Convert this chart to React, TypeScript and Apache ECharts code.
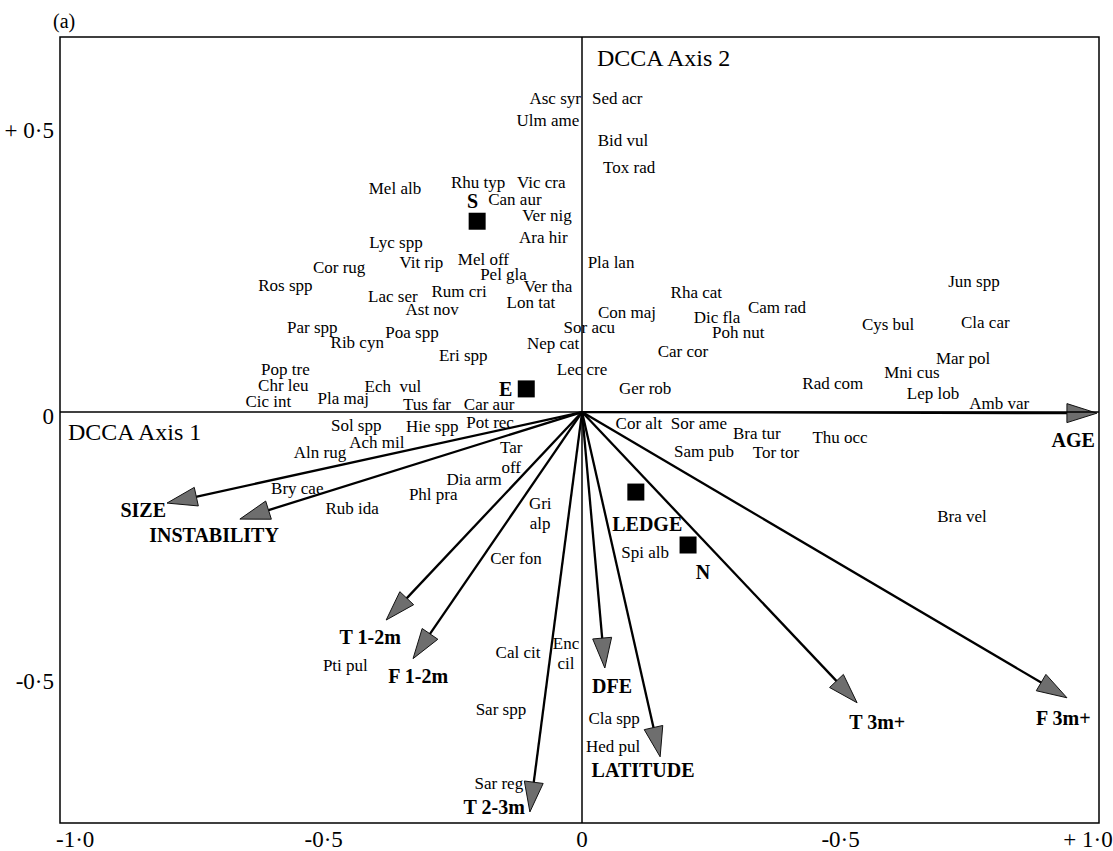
import React, { useEffect, useRef } from "react";
import * as echarts from "echarts";

// Species scores on DCCA axes 1 and 2
const speciesNames = [
  "Asc syr", "Sed acr", "Ulm ame", "Bid vul", "Tox rad", "Mel alb", "Rhu typ", "Vic cra",
  "Can aur", "Ver nig", "Ara hir", "Lyc spp", "Vit rip", "Mel off", "Cor rug", "Pel gla",
  "Pla lan", "Ros spp", "Rum cri", "Ver tha", "Lac ser", "Lon tat", "Ast nov", "Con maj",
  "Par spp", "Sor acu", "Rib cyn", "Poa spp", "Nep cat", "Eri spp", "Pop tre", "Lec cre",
  "Chr leu", "Ech  vul", "Ger rob", "Cic int", "Pla maj", "Tus far", "Car aur", "Sol spp",
  "Hie spp", "Pot rec", "Rha cat", "Cam rad", "Dic fla", "Poh nut", "Cys bul", "Jun spp",
  "Cla car", "Car cor", "Mar pol", "Mni cus", "Rad com", "Lep lob", "Amb var", "Cor alt",
  "Sor ame", "Bra tur", "Thu occ", "Sam pub", "Tor tor", "Spi alb", "Bra vel", "Ach mil",
  "Aln rug", "Tar\noff", "Dia arm", "Bry cae", "Phl pra", "Gri\nalp", "Rub ida", "Cer fon",
  "Pti pul", "Cal cit", "Enc\ncil", "Sar spp", "Cla spp", "Hed pul", "Sar reg",
];
const speciesAxis1 = [
  -0.052, 0.068, -0.066, 0.079, 0.091, -0.362, -0.201, -0.079,
  -0.130, -0.068, -0.075, -0.360, -0.311, -0.191, -0.470, -0.152,
  0.056, -0.574, -0.238, -0.066, -0.366, -0.099, -0.290, 0.087,
  -0.522, 0.014, -0.435, -0.329, -0.056, -0.230, -0.574, 0.000,
  -0.578, -0.366, 0.122, -0.607, -0.462, -0.300, -0.180, -0.437,
  -0.290, -0.178, 0.221, 0.377, 0.261, 0.302, 0.592, 0.758,
  0.780, 0.195, 0.737, 0.638, 0.485, 0.679, 0.807, 0.110,
  0.226, 0.338, 0.499, 0.236, 0.375, 0.122, 0.735, -0.397,
  -0.507, -0.137, -0.209, -0.551, -0.288, -0.081, -0.445, -0.128,
  -0.458, -0.124, -0.031, -0.157, 0.062, 0.060, -0.161,
];
const speciesAxis2 = [
  0.569, 0.569, 0.529, 0.493, 0.444, 0.406, 0.417, 0.417,
  0.386, 0.357, 0.317, 0.308, 0.272, 0.277, 0.263, 0.250,
  0.272, 0.230, 0.219, 0.227, 0.209, 0.199, 0.186, 0.181,
  0.154, 0.154, 0.126, 0.145, 0.125, 0.103, 0.077, 0.078,
  0.049, 0.047, 0.043, 0.019, 0.024, 0.013, 0.014, -0.025,
  -0.027, -0.018, 0.217, 0.190, 0.172, 0.145, 0.158, 0.236,
  0.163, 0.109, 0.098, 0.071, 0.051, 0.034, 0.016, -0.020,
  -0.020, -0.038, -0.047, -0.071, -0.074, -0.255, -0.190, -0.056,
  -0.074, -0.082, -0.123, -0.138, -0.150, -0.183, -0.174, -0.266,
  -0.460, -0.435, -0.437, -0.540, -0.556, -0.607, -0.674,
];

// Site group centroids and where their names sit
const siteNames = ["S", "E", "LEDGE", "N"];
const siteScores = [
  [-0.203, 0.346],
  [-0.108, 0.042],
  [0.104, -0.145],
  [0.205, -0.241],
];
const siteLabelAt = [
  [-0.212, 0.383],
  [-0.148, 0.042],
  [0.126, -0.203],
  [0.234, -0.290],
];

// Environmental variable biplot arrows (tips) and their label anchors
const envNames = [
  "SIZE", "INSTABILITY", "T 1-2m", "F 1-2m", "T 2-3m",
  "DFE", "LATITUDE", "T 3m+", "F 3m+", "AGE",
];
const envTips = [
  [-0.803, -0.165],
  [-0.662, -0.194],
  [-0.379, -0.377],
  [-0.327, -0.447],
  [-0.101, -0.725],
  [0.044, -0.464],
  [0.151, -0.625],
  [0.532, -0.527],
  [0.938, -0.518],
  [0.996, -0.002],
];
const envLabelAt = [
  [-0.849, -0.178],
  [-0.712, -0.223],
  [-0.410, -0.408],
  [-0.317, -0.478],
  [-0.170, -0.716],
  [0.058, -0.497],
  [0.118, -0.649],
  [0.571, -0.562],
  [0.931, -0.554],
  [0.950, -0.051],
];

// Axis tick values and the labels printed under them
const xTicks = [-1, -0.5, 0, 0.5, 1];
const xTickLabels = ["-1·0", "-0·5", "0", "-0·5", "+ 1·0"];
const yTicks = [-0.5, 0, 0.5];
const yTickLabels = ["-0·5", "0", "+ 0·5"];

const SERIF = "'Liberation Serif', 'DejaVu Serif', 'Times New Roman', serif";

export default function App() {
  const ref = useRef<HTMLDivElement>(null);

  useEffect(() => {
    if (!ref.current) return;
    const chart = echarts.init(ref.current, undefined, { renderer: "svg" });

    const textSeries = (
      id: string,
      names: string[],
      coords: number[][],
      font: string
    ) => ({
      id,
      type: "custom",
      silent: true,
      clip: false,
      data: coords.map((c, i) => ({ value: [c[0], c[1]], name: names[i] })),
      renderItem: (params: any, api: any) => {
        const p = api.coord([api.value(0), api.value(1)]);
        return {
          type: "text",
          x: p[0],
          y: p[1],
          style: {
            text: names[params.dataIndex],
            font,
            fill: "#000",
            textAlign: "center",
            textVerticalAlign: "middle",
            lineHeight: 20,
          },
        };
      },
    });

    const speciesCoords = speciesAxis1.map((v, i) => [v, speciesAxis2[i]]);

    const tickRich = (size: number) => ({
      n: { fontSize: size, fontFamily: SERIF, color: "#000" },
      l: { fontSize: size, fontFamily: SERIF, color: "#000", padding: [0, 0, 0, 20] },
      r: { fontSize: size, fontFamily: SERIF, color: "#000", padding: [0, 22, 0, 0] },
      u: { fontSize: size, fontFamily: SERIF, color: "#000", padding: [0, 0, 12, 0] },
      d: { fontSize: size, fontFamily: SERIF, color: "#000", padding: [8, 0, 0, 0] },
    });

    chart.setOption({
      animation: false,
      backgroundColor: "#fff",
      grid: {
        left: 60,
        right: 14,
        top: 37,
        bottom: 28,
        outerBoundsMode: "none",
        containLabel: false,
        show: true,
        borderColor: "#000",
        borderWidth: 1.5,
        backgroundColor: "transparent",
      },
      xAxis: {
        type: "value",
        min: -1.01,
        max: 1.0,
        axisLine: { show: false },
        axisTick: { show: false },
        splitLine: { show: false },
        axisLabel: {
          customValues: xTicks,
          margin: 5,
          fontSize: 23,
          fontFamily: SERIF,
          color: "#000",
          formatter: (v: number) => {
            const i = xTicks.findIndex((t) => Math.abs(t - v) < 1e-6);
            const txt = i >= 0 ? xTickLabels[i] : "";
            if (i === 0) return `{l|${txt}}`;
            if (i === xTicks.length - 1) return `{r|${txt}}`;
            return `{n|${txt}}`;
          },
          rich: tickRich(23),
        },
      },
      yAxis: {
        type: "value",
        min: -0.745,
        max: 0.68,
        axisLine: { show: false },
        axisTick: { show: false },
        splitLine: { show: false },
        axisLabel: {
          customValues: yTicks,
          margin: 6,
          fontSize: 23,
          fontFamily: SERIF,
          color: "#000",
          formatter: (v: number) => {
            const i = yTicks.findIndex((t) => Math.abs(t - v) < 1e-6);
            const txt = i >= 0 ? yTickLabels[i] : "";
            if (v === 0) return `{d|${txt}}`;
            return `{u|${txt}}`;
          },
          rich: tickRich(23),
        },
      },
      graphic: [
        {
          type: "text",
          left: 53,
          top: 11,
          style: { text: "(a)", font: `20px ${SERIF}`, fill: "#000" },
        },
        {
          type: "text",
          x: 597,
          y: 58,
          style: {
            text: "DCCA Axis 2",
            font: `24px ${SERIF}`,
            fill: "#000",
            textVerticalAlign: "middle",
          },
        },
        {
          type: "text",
          x: 68,
          y: 432,
          style: {
            text: "DCCA Axis 1",
            font: `24px ${SERIF}`,
            fill: "#000",
            textVerticalAlign: "middle",
          },
        },
      ],
      series: [
        {
          id: "axes-zero",
          type: "scatter",
          data: [],
          silent: true,
          markLine: {
            silent: true,
            symbol: ["none", "none"],
            label: { show: false },
            lineStyle: { color: "#000", width: 1.5, type: "solid" },
            data: [{ xAxis: 0 }, { yAxis: 0 }],
          },
        },
        {
          id: "env-arrows",
          type: "custom",
          silent: true,
          clip: false,
          data: envTips.map((t, i) => ({ value: t, name: envNames[i] })),
          renderItem: (_params: any, api: any) => {
            const o = api.coord([0, 0]);
            const t = api.coord([api.value(0), api.value(1)]);
            const dx = t[0] - o[0];
            const dy = t[1] - o[1];
            const len = Math.hypot(dx, dy) || 1;
            const ux = dx / len;
            const uy = dy / len;
            const headLen = 30;
            const halfW = 9.5;
            const bx = t[0] - ux * headLen;
            const by = t[1] - uy * headLen;
            const nx = -uy;
            const ny = ux;
            return {
              type: "group",
              children: [
                {
                  type: "line",
                  shape: { x1: o[0], y1: o[1], x2: bx + ux * 4, y2: by + uy * 4 },
                  style: { stroke: "#000", lineWidth: 2.3 },
                },
                {
                  type: "polygon",
                  shape: {
                    points: [
                      [t[0], t[1]],
                      [bx + nx * halfW, by + ny * halfW],
                      [bx - nx * halfW, by - ny * halfW],
                    ],
                  },
                  style: { fill: "#6e6e6e", stroke: "#111", lineWidth: 1 },
                },
              ],
            };
          },
        },
        {
          id: "sites",
          type: "scatter",
          silent: true,
          symbol: "rect",
          symbolSize: 17,
          itemStyle: { color: "#000", opacity: 1 },
          data: siteScores.map((s, i) => ({ value: s, name: siteNames[i] })),
        },
        textSeries("species-labels", speciesNames, speciesCoords, `17px ${SERIF}`),
        textSeries("site-labels", siteNames, siteLabelAt, `bold 20px ${SERIF}`),
        textSeries("env-labels", envNames, envLabelAt, `bold 20px ${SERIF}`),
      ],
    });

    return () => chart.dispose();
  }, []);

  return (
    <div
      ref={ref}
      style={{
        position: "fixed",
        left: 0,
        top: 0,
        width: 1113,
        height: 851,
        background: "#fff",
      }}
    />
  );
}
